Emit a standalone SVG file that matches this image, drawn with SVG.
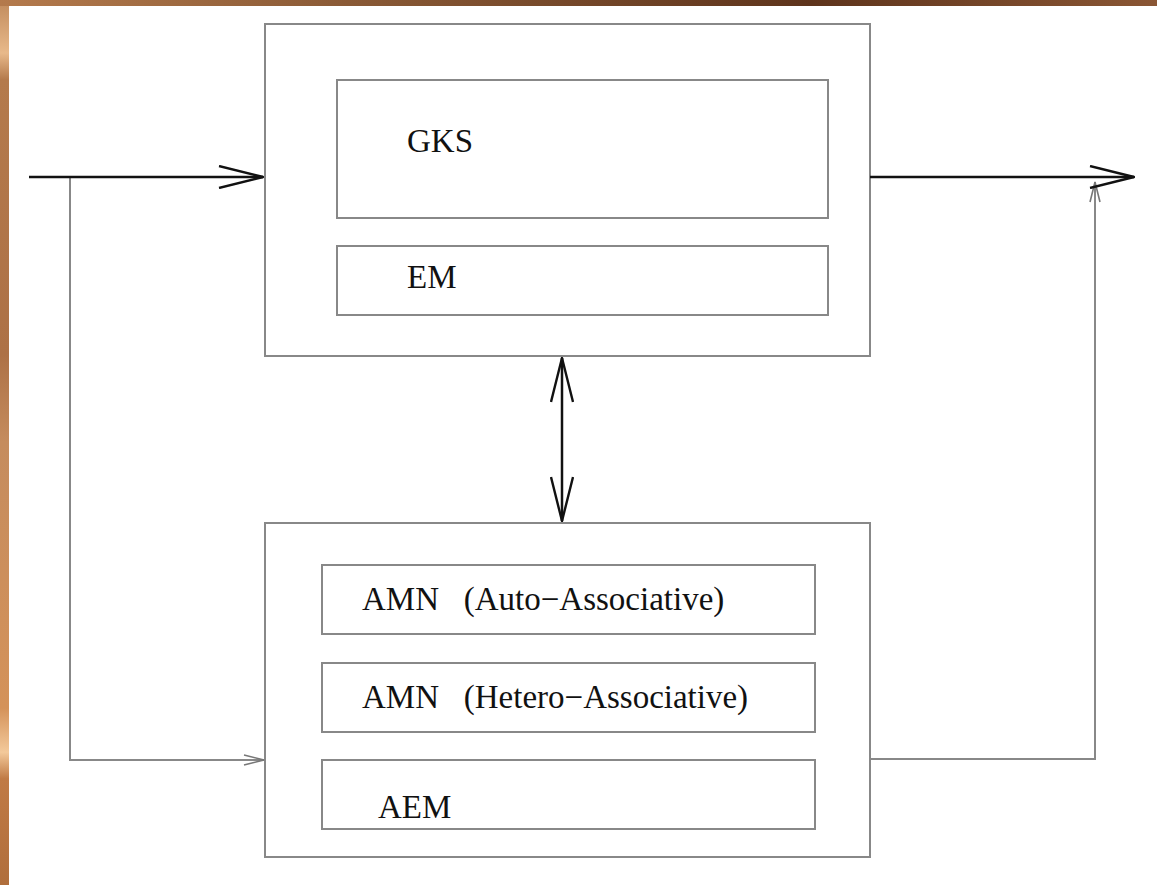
<svg xmlns="http://www.w3.org/2000/svg" width="1157" height="885" viewBox="0 0 1157 885">
<defs>
<linearGradient id="wood" x1="0" y1="0" x2="0" y2="1">
<stop offset="0" stop-color="#c08a5c"/>
<stop offset="0.06" stop-color="#e8b98a"/>
<stop offset="0.09" stop-color="#b47a4c"/>
<stop offset="0.4" stop-color="#ad7146"/>
<stop offset="0.5" stop-color="#c58c5e"/>
<stop offset="0.8" stop-color="#d4925a"/>
<stop offset="0.85" stop-color="#f3c99a"/>
<stop offset="0.88" stop-color="#c07a45"/>
<stop offset="1" stop-color="#b06e3c"/>
</linearGradient>
<linearGradient id="woodtop" x1="0" y1="0" x2="1" y2="0">
<stop offset="0" stop-color="#b47a4c"/>
<stop offset="0.3" stop-color="#8a5a36"/>
<stop offset="0.7" stop-color="#5e341c"/>
<stop offset="1" stop-color="#8a5634"/>
</linearGradient>
<marker id="big" viewBox="0 0 46 24" refX="45" refY="12" markerWidth="46" markerHeight="24" markerUnits="userSpaceOnUse" orient="auto-start-reverse">
<path d="M1,1 L45,12 L1,23" fill="none" stroke="#111" stroke-width="2.4" stroke-linejoin="round"/>
</marker>
<marker id="small" viewBox="0 0 22 12" refX="21" refY="6" markerWidth="22" markerHeight="12" markerUnits="userSpaceOnUse" orient="auto">
<path d="M1,1 L21,6 L1,11" fill="none" stroke="#777" stroke-width="1.6"/>
</marker>
</defs>
<style>
.box{fill:#fff;stroke:#888;stroke-width:2}
.lbl{font-family:"Liberation Serif","Times New Roman",serif;font-size:33px;fill:#111}
.thick{fill:none;stroke:#111;stroke-width:2.5}
.thin{fill:none;stroke:#888;stroke-width:2}
</style>
<rect x="0" y="0" width="1157" height="885" fill="#fff"/>
<rect x="0" y="0" width="9" height="885" fill="url(#wood)"/>
<rect x="0" y="0" width="1157" height="6" fill="url(#woodtop)"/>

<g id="top-block">
<rect class="box" x="265" y="24" width="605" height="332"/>
</g>
<g id="gks">
<rect class="box" x="337" y="80" width="491" height="138"/>
<text class="lbl" x="407" y="152">GKS</text>
</g>
<g id="em">
<rect class="box" x="337" y="246" width="491" height="69"/>
<text class="lbl" x="407" y="288">EM</text>
</g>

<g id="bottom-block">
<rect class="box" x="265" y="523" width="605" height="334"/>
</g>
<g id="amn-auto">
<rect class="box" x="322" y="565" width="493" height="69"/>
<text class="lbl" x="362" y="610" xml:space="preserve">AMN   (Auto−Associative)</text>
</g>
<g id="amn-hetero">
<rect class="box" x="322" y="663" width="493" height="69"/>
<text class="lbl" x="362" y="708" xml:space="preserve">AMN   (Hetero−Associative)</text>
</g>
<g id="aem">
<rect class="box" x="322" y="760" width="493" height="69"/>
<text class="lbl" x="378" y="818">AEM</text>
</g>

<g id="connectors">
<path class="thin" d="M70,177 V760 H264" marker-end="url(#small)"/>
<path class="thin" d="M870,759 H1095 V182" marker-end="url(#small)"/>
<path class="thick" d="M29,177 H263" marker-end="url(#big)"/>
<path class="thick" d="M870,177 H1134" marker-end="url(#big)"/>
<path class="thick" d="M562,358 V521" marker-start="url(#big)" marker-end="url(#big)"/>
</g>
</svg>
